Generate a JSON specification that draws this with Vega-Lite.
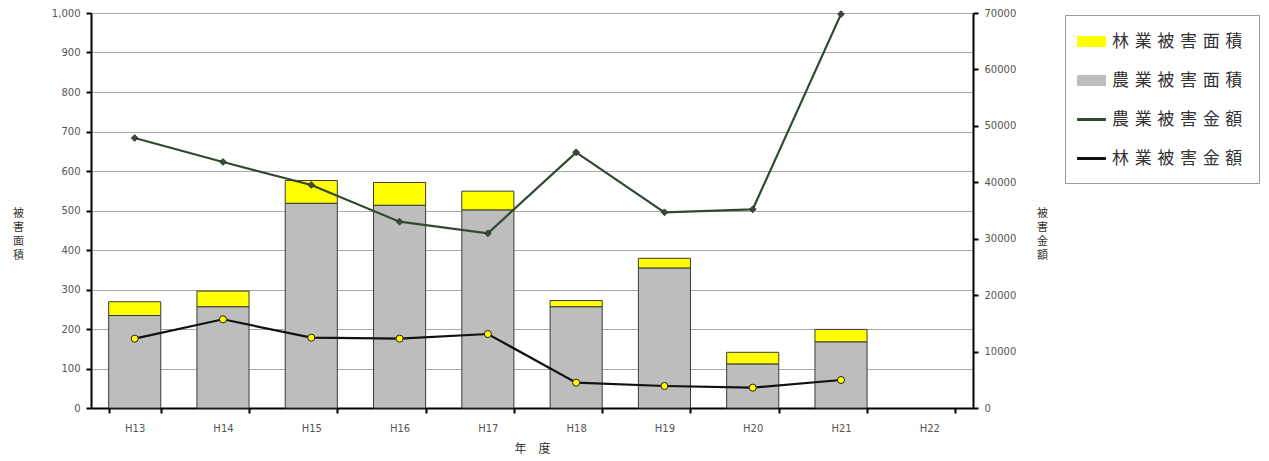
{
  "$schema": "https://vega.github.io/schema/vega-lite/v6.json",
  "width": 882,
  "height": 395,
  "autosize": {"type": "none"},
  "padding": {"left": 91, "top": 13, "right": 296, "bottom": 53},
  "config": {
    "font": "Noto Sans CJK JP",
    "view": {"stroke": null},
    "axis": {
      "labelFont": "DejaVu Sans",
      "labelFontSize": 10,
      "labelColor": "#555555",
      "domainColor": "#000000",
      "domainWidth": 2,
      "tickColor": "#000000",
      "tickWidth": 2,
      "tickSize": 5,
      "titleFont": "Noto Sans CJK JP",
      "titleFontWeight": "normal",
      "titleColor": "#333333",
      "titleFontSize": 11
    },
    "legend": {
      "orient": "none",
      "legendX": 974,
      "legendY": 2,
      "strokeColor": "#999999",
      "fillColor": "#ffffff",
      "padding": 16,
      "labelFontSize": 17,
      "labelColor": "#333333",
      "labelFont": "Noto Sans CJK JP",
      "rowPadding": 20,
      "symbolSize": 400,
      "labelOffset": 10,
      "symbolStrokeColor": "#555555",
      "symbolStrokeWidth": 1,
      "labelLimit": 300
    }
  },
  "data": {
    "values": [
      {"年度": "H13", "農業被害面積": 234, "林業被害面積": 35, "農業被害金額": 47850, "林業被害金額": 12290},
      {"年度": "H14", "農業被害面積": 256, "林業被害面積": 40, "農業被害金額": 43600, "林業被害金額": 15720},
      {"年度": "H15", "農業被害面積": 518, "林業被害面積": 58, "農業被害金額": 39520, "林業被害金額": 12460},
      {"年度": "H16", "農業被害面積": 513, "林業被害面積": 58, "農業被害金額": 33020, "林業被害金額": 12290},
      {"年度": "H17", "農業被害面積": 501, "林業被害面積": 48, "農業被害金額": 30960, "林業被害金額": 13110},
      {"年度": "H18", "農業被害面積": 256, "林業被害面積": 16, "農業被害金額": 45310, "林業被害金額": 4490},
      {"年度": "H19", "農業被害面積": 354, "林業被害面積": 25, "農業被害金額": 34680, "林業被害金額": 3900},
      {"年度": "H20", "農業被害面積": 111, "林業被害面積": 30, "農業被害金額": 35210, "林業被害金額": 3600},
      {"年度": "H21", "農業被害面積": 167, "林業被害面積": 32, "農業被害金額": 69800, "林業被害金額": 4960}
    ]
  },
  "encoding": {
    "x": {
      "field": "年度",
      "type": "nominal",
      "sort": null,
      "scale": {"domain": ["H13", "H14", "H15", "H16", "H17", "H18", "H19", "H20", "H21", "H22"], "paddingInner": 0.41, "paddingOuter": 0.2},
      "axis": {
        "title": "年　度",
        "labelAngle": 0,
        "tickBand": "extent",
        "labelPadding": 10,
        "titlePadding": 10,
        "titleFontSize": 12
      }
    }
  },
  "layer": [
    {
      "transform": [{"fold": ["林業被害面積", "農業被害面積"], "as": ["series", "value"]}],
      "mark": {"type": "bar", "stroke": "#3a3a3a", "strokeWidth": 1},
      "encoding": {
        "y": {
          "field": "value",
          "type": "quantitative",
          "stack": "zero",
          "scale": {"domain": [0, 1000], "nice": false},
          "axis": {
            "values": [0, 100, 200, 300, 400, 500, 600, 700, 800, 900, 1000],
            "format": ",d",
            "grid": true,
            "gridColor": "#a8a8a8",
            "gridWidth": 1,
            "labelPadding": 6,
            "title": ["被", "害", "面", "積"],
            "titleAngle": 0,
            "titleAlign": "center",
            "titleBaseline": "middle",
            "titleX": -73,
            "titleY": 200,
            "titleLineHeight": 14
          }
        },
        "color": {
          "field": "series",
          "type": "nominal",
          "scale": {
            "domain": ["林業被害面積", "農業被害面積", "農業被害金額", "林業被害金額"],
            "range": ["#ffff00", "#bdbdbd", "#2f4a2f", "#111111"]
          },
          "legend": {"title": null, "labelExpr": "join(split(datum.label, ''), '\u2004')"}
        },
        "order": {"field": "series", "sort": "descending"}
      }
    },
    {
      "transform": [{"fold": ["農業被害金額", "林業被害金額"], "as": ["series", "value"]}],
      "layer": [
        {
          "mark": {"type": "line", "strokeWidth": 2.2},
          "encoding": {
            "y": {
              "field": "value",
              "type": "quantitative",
              "scale": {"domain": [0, 70000], "nice": false},
              "axis": {
                "orient": "right",
                "values": [0, 10000, 20000, 30000, 40000, 50000, 60000, 70000],
                "format": "d",
                "grid": false,
                "labelPadding": 6,
                "title": ["被", "害", "金", "額"],
                "titleAngle": 0,
                "titleAlign": "center",
                "titleBaseline": "middle",
                "titleX": 69,
                "titleY": 200,
                "titleLineHeight": 14
              }
            },
            "color": {"field": "series", "type": "nominal"}
          }
        },
        {
          "transform": [{"filter": "datum.series === '農業被害金額'"}],
          "mark": {"type": "point", "shape": "diamond", "filled": true, "fill": "#3b4a3b", "stroke": "#2a352a", "strokeWidth": 1, "size": 45, "opacity": 1},
          "encoding": {
            "y": {"field": "value", "type": "quantitative"}
          }
        },
        {
          "transform": [{"filter": "datum.series === '林業被害金額'"}],
          "mark": {"type": "point", "shape": "circle", "filled": true, "fill": "#ffff00", "stroke": "#222222", "strokeWidth": 1, "size": 50, "opacity": 1},
          "encoding": {
            "y": {"field": "value", "type": "quantitative"}
          }
        },
        {
          "transform": [{"filter": "false"}],
          "mark": {"type": "point", "filled": true, "opacity": 1},
          "encoding": {
            "color": {"field": "series", "type": "nominal"},
            "shape": {
              "field": "series",
              "type": "nominal",
              "scale": {
                "domain": ["林業被害面積", "農業被害面積", "農業被害金額", "林業被害金額"],
                "range": ["M-1.4,-0.5H1.4V0.5H-1.4Z", "M-1.4,-0.5H1.4V0.5H-1.4Z", "M-1.4,-0.1H1.4V0.1H-1.4Z", "M-1.4,-0.1H1.4V0.1H-1.4Z"]
              },
              "legend": {"title": null, "labelExpr": "join(split(datum.label, ''), '\u2004')"}
            }
          }
        }
      ]
    }
  ],
  "resolve": {"scale": {"y": "independent"}}
}
